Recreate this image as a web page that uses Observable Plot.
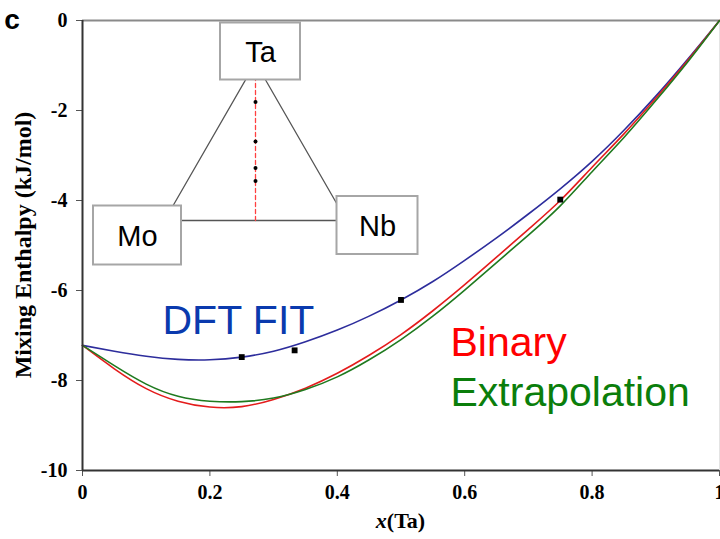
<!DOCTYPE html>
<html><head><meta charset="utf-8">
<script src="https://cdn.jsdelivr.net/npm/d3@7"></script>
<script src="https://cdn.jsdelivr.net/npm/@observablehq/plot@0.6"></script>
<style>
html,body{margin:0;padding:0;background:#fff;}
#chart{position:relative;width:720px;height:539px;overflow:hidden;}
</style></head><body><div id="chart"></div>
<script>
// ---- data ----
const xTa = [0,0.05,0.1,0.15,0.2,0.25,0.3,0.35,0.4,0.45,0.5,0.55,0.6,0.65,0.7,0.75,0.8,0.85,0.9,0.95,1];
const dftFit = [-7.22,-7.35,-7.46,-7.53,-7.54,-7.48,-7.35,-7.14,-6.88,-6.57,-6.21,-5.80,-5.33,-4.83,-4.30,-3.74,-3.13,-2.44,-1.68,-0.86,0];
const binary = [-7.22,-7.74,-8.18,-8.46,-8.59,-8.58,-8.42,-8.17,-7.84,-7.44,-6.98,-6.45,-5.87,-5.26,-4.64,-4.00,-3.26,-2.52,-1.73,-0.89,0];
const extrapolation = [-7.22,-7.67,-8.08,-8.35,-8.46,-8.47,-8.39,-8.20,-7.92,-7.54,-7.09,-6.57,-5.99,-5.38,-4.77,-4.12,-3.36,-2.60,-1.78,-0.92,0];
const dftX = [0.25,0.333,0.5,0.75];
const dftE = [-7.48,-7.33,-6.21,-3.98];
const xTicks = [0,0.2,0.4,0.6,0.8,1];
const yTicks = [0,-2,-4,-6,-8,-10];
const vertexNames = ["Ta","Mo","Nb"];
const seriesNames = ["DFT FIT","Binary","Extrapolation"];

// ---- layout ----
const W = 720, H = 539, ML = 82, MR = 1, MT = 20, MB = 69;
const pxX = (W - ML - MR), pxY = (H - MT - MB);
const dX = p => p / pxX;          // pixels -> x data units
const dY = p => p / pxY * 10;     // pixels -> y data units

// inset ternary diagram frame (base-left corner, base width, height)
const inX = dX(164 - ML), inY = -dY(220 - MT), inW = dX(182), inH = dY(158);
const tern = (ta, nb) => ({x: inX + inW * (nb + ta / 2), y: inY + inH * ta});
const vTa = tern(1, 0), vMo = tern(0, 0), vNb = tern(0, 1);
const triangle = [vTa, vMo, vNb, vTa];
const midLine = [tern(1, 0), tern(0, 0.5)];
const inDots = dftX.map(t => tern(t, (1 - t) / 2));
const boxes = [
  {name: vertexNames[0], cx: vTa.x + dX(5),  cy: vTa.y + dY(11), w: dX(80), h: dY(57)},
  {name: vertexNames[1], cx: vMo.x - dX(27), cy: vMo.y - dY(15), w: dX(88), h: dY(59)},
  {name: vertexNames[2], cx: vNb.x + dX(31), cy: vNb.y - dY(5),  w: dX(81), h: dY(58)}
];

const curves = [];
xTa.forEach((x, i) => {
  curves.push({x, y: dftFit[i], s: "dft"});
  curves.push({x, y: binary[i], s: "bin"});
  curves.push({x, y: extrapolation[i], s: "ext"});
});
const points = dftX.map((x, i) => ({x, y: dftE[i]}));
const lineColors = {dft: "#2d2d9c", bin: "#e41c1c", ext: "#1f7a1f"};

const serif = "'Liberation Serif','Times New Roman',serif";
const sans = "'Liberation Sans',Arial,sans-serif";

const chart = Plot.plot({
  width: W, height: H,
  marginLeft: ML, marginRight: MR, marginTop: MT, marginBottom: MB,
  x: {domain: [0, 1]},
  y: {domain: [-10, 0]},
  style: {background: "white"},
  marks: [
    Plot.ruleY([0], {stroke: "#8a8a8a", strokeWidth: 2}),
    Plot.ruleX([1], {stroke: "#e4e4e4", strokeWidth: 1}),
    // inset ternary diagram
    Plot.line(triangle, {x: "x", y: "y", stroke: "#555", strokeWidth: 1.3}),
    Plot.line(midLine, {x: "x", y: "y", stroke: "#ff4040", strokeWidth: 1.3, strokeDasharray: "4,3"}),
    Plot.dot(inDots, {x: "x", y: "y", r: 2, fill: "black"}),
    Plot.rect(boxes, {x1: d => d.cx - d.w / 2, x2: d => d.cx + d.w / 2, y1: d => d.cy - d.h / 2, y2: d => d.cy + d.h / 2,
      fill: "white", stroke: "#a6a6a6", strokeWidth: 2}),
    Plot.text(boxes, {x: "cx", y: "cy", text: "name", fontSize: 29, fontFamily: sans, fill: "black", dy: 1}),
    // curves
    Plot.line(curves, {x: "x", y: "y", z: "s", stroke: d => lineColors[d.s], strokeWidth: 1.6, curve: "natural"}),
    Plot.dot(points, {x: "x", y: "y", symbol: "square", r: 3.3, fill: "black"}),
    // series labels
    Plot.text([seriesNames[0]], {x: dX(162 - ML), y: -dY(333 - MT), text: d => d, textAnchor: "start", lineAnchor: "bottom", fontSize: 41, fontFamily: sans, fill: "#0a3aae"}),
    Plot.text([seriesNames[1]], {x: dX(450 - ML), y: -dY(355 - MT), text: d => d, textAnchor: "start", lineAnchor: "bottom", fontSize: 41, fontFamily: sans, fill: "#ff0000"}),
    Plot.text([seriesNames[2]], {x: dX(450 - ML), y: -dY(405 - MT), text: d => d, textAnchor: "start", lineAnchor: "bottom", fontSize: 41, fontFamily: sans, fill: "#0b7e0b"}),
    // axes
    Plot.axisX({ticks: xTicks, tickFormat: d => String(d), tickSize: 6, tickPadding: 8, label: null,
      stroke: "#555", fontSize: 20, fontWeight: "bold", fontFamily: serif, fill: "black"}),
    Plot.axisY({ticks: yTicks, tickFormat: d => String(d), tickSize: 6, tickPadding: 9, label: null,
      stroke: "#555", fontSize: 20, fontWeight: "bold", fontFamily: serif, fill: "black"}),
    Plot.ruleX([0], {stroke: "#333", strokeWidth: 2}),
    Plot.ruleY([-10], {stroke: "#333", strokeWidth: 2})
  ]
});
document.getElementById("chart").appendChild(chart);

// axis titles and panel label
const svg = d3.select(chart);
svg.append("text").attr("x", 12).attr("y", 29)
  .attr("font-family", sans).attr("font-weight", "bold").attr("font-size", 28).attr("fill", "black").text("c");
svg.append("text").attr("transform", `translate(31,${MT + pxY / 2}) rotate(-90)`)
  .attr("text-anchor", "middle").attr("font-family", serif).attr("font-weight", "bold").attr("font-size", 24)
  .attr("fill", "black").text("Mixing Enthalpy (kJ/mol)");
const xt = svg.append("text").attr("x", ML + pxX / 2).attr("y", 528).attr("text-anchor", "middle")
  .attr("font-family", serif).attr("font-weight", "bold").attr("font-size", 22).attr("fill", "black");
xt.append("tspan").attr("font-style", "italic").text("x");
xt.append("tspan").text("(Ta)");
</script></body></html>
